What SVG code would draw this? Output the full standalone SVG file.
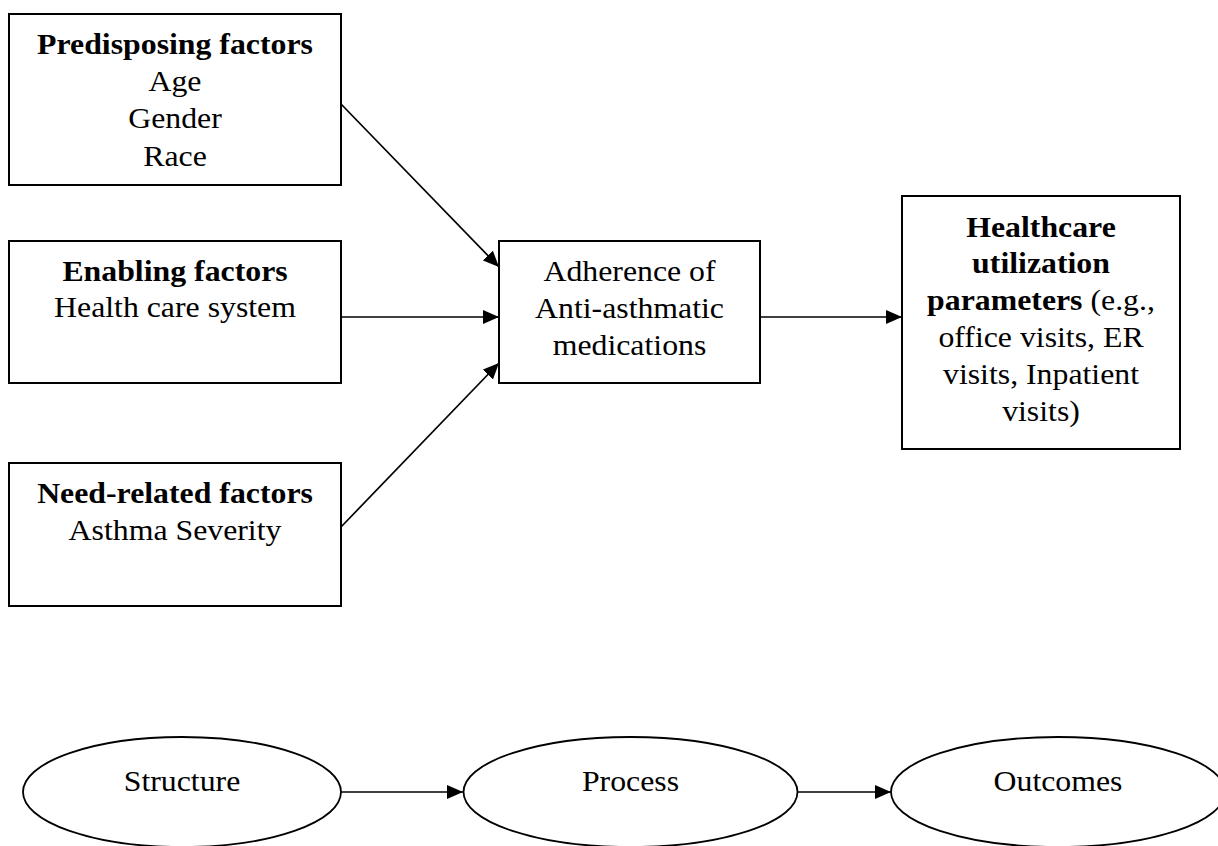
<svg xmlns="http://www.w3.org/2000/svg" width="1218" height="846" viewBox="0 0 1218 846">
<style>
.box{fill:#fff;stroke:#000;stroke-width:2}
.ell{fill:#fff;stroke:#000;stroke-width:1.8}
.t{font-family:"Liberation Serif","Times New Roman",serif;font-size:30px;fill:#000;text-anchor:middle}
.b{font-weight:bold}
.edge{fill:none;stroke:#000;stroke-width:1.7}
</style>
<defs>
<marker id="ah" markerUnits="userSpaceOnUse" markerWidth="17" markerHeight="15" refX="16" refY="7" orient="auto">
<path d="M0,0 L16,7 L0,14 Z" fill="#000"/>
</marker>
</defs>
<rect width="1218" height="846" fill="#fff"/>
<g id="connectors">
<line class="edge" x1="341" y1="104" x2="499" y2="267" marker-end="url(#ah)"/>
<line class="edge" x1="341" y1="317" x2="499" y2="317" marker-end="url(#ah)"/>
<line class="edge" x1="341" y1="527" x2="499" y2="363" marker-end="url(#ah)"/>
<line class="edge" x1="760" y1="317" x2="902" y2="317" marker-end="url(#ah)"/>
<line class="edge" x1="341" y1="792" x2="463" y2="792" marker-end="url(#ah)"/>
<line class="edge" x1="798" y1="792" x2="891" y2="792" marker-end="url(#ah)"/>
</g>
<g id="predisposing">
<rect class="box" x="9" y="14" width="332" height="171"/>
<g transform="translate(175 0) scale(1.06 1)">
<text class="t b" x="0" y="54">Predisposing factors</text>
<text class="t" x="0" y="91">Age</text>
<text class="t" x="0" y="128">Gender</text>
<text class="t" x="0" y="166">Race</text>
</g>
</g>
<g id="enabling">
<rect class="box" x="9" y="241" width="332" height="142"/>
<g transform="translate(175 0) scale(1.06 1)">
<text class="t b" x="0" y="281">Enabling factors</text>
<text class="t" x="0" y="317">Health care system</text>
</g>
</g>
<g id="need">
<rect class="box" x="9" y="463" width="332" height="143"/>
<g transform="translate(175 0) scale(1.06 1)">
<text class="t b" x="0" y="503">Need-related factors</text>
<text class="t" x="0" y="540">Asthma Severity</text>
</g>
</g>
<g id="adherence">
<rect class="box" x="499" y="241" width="261" height="142"/>
<g transform="translate(629.5 0) scale(1.06 1)">
<text class="t" x="0" y="281">Adherence of</text>
<text class="t" x="0" y="318">Anti-asthmatic</text>
<text class="t" x="0" y="355">medications</text>
</g>
</g>
<g id="healthcare">
<rect class="box" x="902" y="196" width="278" height="253"/>
<g transform="translate(1041 0) scale(1.06 1)">
<text class="t b" x="0" y="237">Healthcare</text>
<text class="t b" x="0" y="273">utilization</text>
<text class="t" x="0" y="310"><tspan class="b">parameters</tspan> (e.g.,</text>
<text class="t" x="0" y="347">office visits, ER</text>
<text class="t" x="0" y="384">visits, Inpatient</text>
<text class="t" x="0" y="421">visits)</text>
</g>
</g>
<g id="structure">
<ellipse class="ell" cx="182" cy="792" rx="159" ry="55"/>
<text class="t" x="0" y="791" transform="translate(182 0) scale(1.06 1)">Structure</text>
</g>
<g id="process">
<ellipse class="ell" cx="630.5" cy="792" rx="167" ry="55"/>
<text class="t" x="0" y="791" transform="translate(630.5 0) scale(1.06 1)">Process</text>
</g>
<g id="outcomes">
<ellipse class="ell" cx="1058" cy="792" rx="167" ry="55"/>
<text class="t" x="0" y="791" transform="translate(1058 0) scale(1.06 1)">Outcomes</text>
</g>
</svg>
